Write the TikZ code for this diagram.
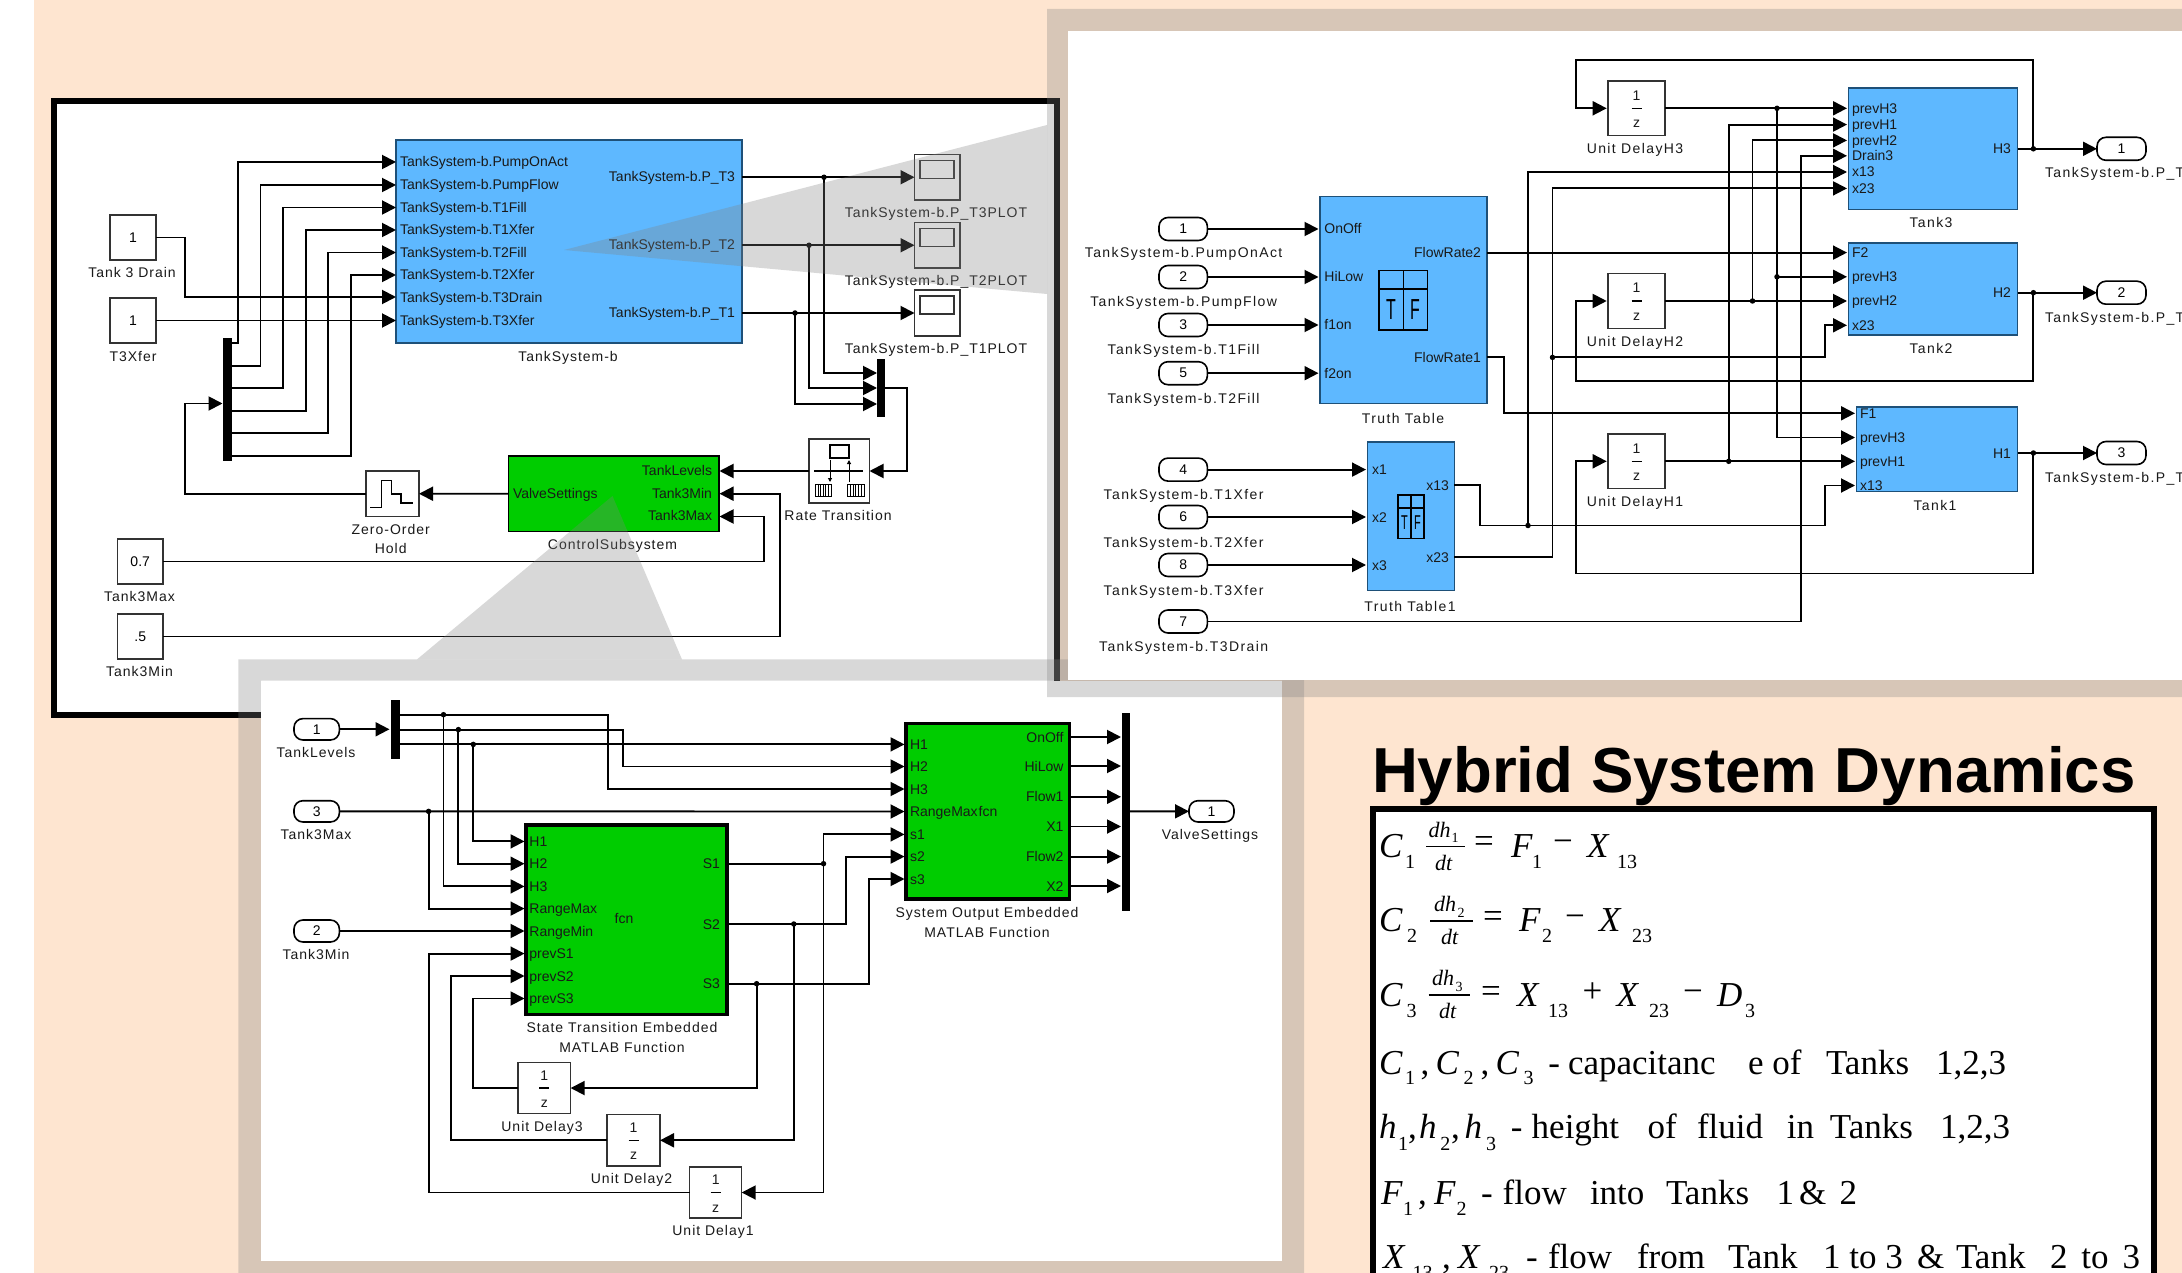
\documentclass[tikz,border=0pt]{standalone}
\usepackage{fontspec}
\setmainfont{Liberation Sans}
\newfontfamily\lfa[LetterSpace=7]{Liberation Sans}
\newfontfamily\lfb[LetterSpace=10]{Liberation Sans}
\newfontfamily\serifF{Liberation Serif}
\usetikzlibrary{arrows.meta}
\definecolor{peach}{RGB}{254,229,208}
\definecolor{blueC}{RGB}{94,184,255}
\definecolor{greenC}{RGB}{0,204,0}
\definecolor{blueE}{RGB}{30,80,120}
\newcounter{tn}
\tikzset{
 wire/.style={draw=black,line width=1.9pt},
 arr/.style={wire,-{Triangle[length=14pt,width=14pt]}},
 txt/.style={inner sep=0pt,outer sep=0pt,text height=10pt,text depth=0pt,text=black!90},
 lbA/.style={txt,font=\lfa\fontsize{14}{16}\selectfont},
 lbB/.style={txt,font=\lfb\fontsize{14}{16}\selectfont},
 lbBw/.style={lbB,anchor=west},
 pl/.style={txt,anchor=west,font=\fontsize{14}{16}\selectfont},
 pr/.style={txt,anchor=east,font=\fontsize{14}{16}\selectfont},
 pc/.style={txt,font=\fontsize{14}{16}\selectfont},
 bk/.style={inner sep=0pt,outer sep=0pt,font=\fontsize{14}{16}\selectfont},
 cblk/.style={bk,draw=black!80,fill=white,line width=1.5pt},
 blueb/.style={bk,draw=blueE,fill=blueC,line width=1.5pt},
 greenb/.style={bk,draw=black,fill=greenC,line width=1.6pt},
 greent/.style={bk,draw=black,fill=greenC,line width=3.5pt},
 pill/.style={bk,draw=black,fill=white,line width=1.6pt,rounded corners=9pt},
 barb/.style={bk,fill=black},
 junc/.style={circle,fill=black,inner sep=0pt,outer sep=0pt,minimum size=5.5pt},
 veil/.style={fill=black!50,fill opacity=.3,draw=none},
 eqb/.style={inner sep=0pt,outer sep=0pt,anchor=base west,text=black},
 eqI/.style={eqb,font=\serifF\itshape\fontsize{35}{40}\selectfont},
 eqR/.style={eqb,font=\serifF\fontsize{35}{40}\selectfont},
 eqS/.style={eqb,font=\serifF\fontsize{20}{24}\selectfont},
 eqF/.style={eqb,font=\serifF\itshape\fontsize{22}{26}\selectfont},
}
% style, name, x1,y1,x2,y2, text
\newcommand{\blk}[7]{%
 \pgfmathsetmacro\bw{#5-#3}\pgfmathsetmacro\bh{#6-#4}%
 \pgfmathsetmacro\bx{(#3+#5)/2}\pgfmathsetmacro\by{(#4+#6)/2}%
 \node[#1,minimum width=\bw pt,minimum height=\bh pt] (#2) at (\bx,\by) {#7};}
\newcommand{\lab}[4]{\stepcounter{tn}\node[#1] (t\arabic{tn}) at (#2,#3) {#4};}
\newcommand{\pt}[3]{\coordinate (#1) at (#2,#3);}
\newcommand{\jn}[3]{\node[junc] (#1) at (#2,#3) {};}
% unit delay: name x1 y1 x2 y2
\newcommand{\ud}[5]{\blk{cblk}{#1}{#2}{#3}{#4}{#5}{}%
 \node[pc] (#1one) at ([yshift=13pt]#1.center) {1};
 \node[pc,text height=7pt] (#1z) at ([yshift=-16pt]#1.center) {z};
 \draw[line width=1.5pt] ([xshift=-5pt]#1.center) -- ([xshift=5pt]#1.center);}
\begin{document}
\begin{tikzpicture}[x=1pt,y=-1pt]
\useasboundingbox (0,0) rectangle (2182,1273);
\clip (0,0) rectangle (2182,1273);
\fill[white] (0,0) rectangle (2182,1273);
\fill[peach] (34,0) rectangle (2182,1273);
% ---------- top-left panel
\node[draw=black,fill=white,line width=6pt,inner sep=0pt,minimum width=1003pt,minimum height=614pt] (frameA) at (555.5,408) {};
\blk{blueb}{tsb}{396}{140}{742}{343}{}
\foreach \n/\y/\t in {1/162/PumpOnAct,2/185/PumpFlow,3/207.5/T1Fill,4/230/T1Xfer,5/252.5/T2Fill,6/275/T2Xfer,7/297/T3Drain,8/320.5/T3Xfer}{
 \pt{ts\n}{396}{\y}
 \node[pl] (tsl\n) at (400,\y) {TankSystem-b.\t};
}
\lab{lbA}{568}{356}{TankSystem-b}
\lab{pr}{735}{177}{TankSystem-b.P\_T3}
\lab{pr}{735}{245}{TankSystem-b.P\_T2}
\lab{pr}{735}{313}{TankSystem-b.P\_T1}
\blk{cblk}{cDrain}{110}{215}{156}{260}{1}
\lab{lbA}{132}{273}{Tank 3 Drain}
\blk{cblk}{cXfer}{110}{298}{156}{343}{1}
\lab{lbA}{133}{356}{T3Xfer}
\draw[arr] (cDrain.east) -| (185,297) -- (ts7);
\draw[arr] (cXfer.east) -- (ts8);
\blk{barb}{dmA}{223}{338}{232}{461}{}
\pt{da1}{232}{343}\pt{da2}{232}{366}\pt{da3}{232}{388}\pt{da4}{232}{411}\pt{da5}{232}{433}\pt{da6}{232}{456}
\draw[arr] (da1) -- (238,343) |- (ts1);
\draw[arr] (da2) -- (260.5,366) |- (ts2);
\draw[arr] (da3) -- (283,388) |- (ts3);
\draw[arr] (da4) -- (306,411) |- (ts4);
\draw[arr] (da5) -- (328,433) |- (ts5);
\draw[arr] (da6) -- (351,456) |- (ts6);
% scopes
\foreach \n/\a/\b/\s in {3/154.5/200/T3,2/222.5/268/T2,1/290/336/T1}{
 \blk{cblk}{sc\n}{914.5}{\a}{960}{\b}{}
 \pgfmathsetmacro\ya{\a+6}\pgfmathsetmacro\yb{\a+24}
 \blk{cblk}{scr\n}{920}{\ya}{954}{\yb}{}
 \pgfmathsetmacro\yl{\b+12.5}
 \node[lbA] (scl\n) at (936,\yl) {TankSystem-b.P\_\s PLOT};
}
\pt{o3}{742}{177.25}\pt{o2}{742}{245.25}\pt{o1}{742}{313}
\jn{ja3}{824}{177.25}\jn{ja2}{809}{245.25}\jn{ja1}{795}{313}
\draw[arr] (o3) -- (sc3.west);
\draw[arr] (o2) -- (sc2.west);
\draw[arr] (o1) -- (sc1.west);
\blk{barb}{mxA}{877}{359}{885}{417}{}
\pt{ma3}{877}{373}\pt{ma2}{877}{388}\pt{ma1}{877}{404}
\draw[arr] (ja3.center) |- (ma3);
\draw[arr] (ja2.center) |- (ma2);
\draw[arr] (ja1.center) |- (ma1);
% rate transition
\blk{cblk}{rt}{809}{439}{869.5}{503}{}
\draw[line width=1.4pt] (814,471) -- (863,471);
\draw[line width=1.2pt,fill=white] (830,445) rectangle (849,458);
\foreach \xa/\xb in {815.5/831,847.5/864}{
 \draw[line width=1pt,fill=white] (\xa,484) rectangle (\xb,496);
 \foreach \k in {1,...,5}{\draw[line width=.8pt] ({\xa+\k*(\xb-\xa)/6},484) -- ({\xa+\k*(\xb-\xa)/6},496);}
}
\draw[line width=1pt,-{Triangle[length=4pt,width=4pt]}] (830,460) -- (830,482);
\draw[line width=1pt,-{Triangle[length=4pt,width=4pt]}] (849,482) -- (849,460);
\lab{lbA}{838}{515}{Rate Transition}
\draw[arr] (885,388) -- (906.7,388) |- (rt.east);
% control subsystem
\blk{greenb}{ctl}{508.5}{456}{719}{531.6}{}
\lab{pr}{712}{470}{TankLevels}
\lab{pr}{712}{493}{Tank3Min}
\lab{pr}{712}{515}{Tank3Max}
\lab{pl}{513}{493}{ValveSettings}
\lab{lbA}{612.5}{544}{ControlSubsystem}
\pt{cl1}{719.5}{471}\pt{cl2}{719.5}{493.7}\pt{cl3}{719.5}{516.5}
\draw[arr] (rt.west) -- (cl1);
% hold
\blk{cblk}{zoh}{366}{471}{419}{516.5}{}
\draw[line width=1.4pt] (370,507.5) -- (381.6,507.5) -- (381.6,480.6) -- (391.3,480.6) -- (391.3,494) -- (401,494) -- (401,503) -- (413,503);
\lab{lbA}{390.7}{529}{Zero-Order}
\lab{lbA}{390.7}{548}{Hold}
\pt{ctlv}{508.5}{493.7}
\draw[arr] (ctlv) -- (zoh.east);
\pt{dmi}{222.5}{403.5}
\draw[arr] (zoh.west) -| (185,403.5) -- (dmi);
\blk{cblk}{cMax}{117.4}{539}{163}{584}{0.7}
\lab{lbA}{139.5}{596.5}{Tank3Max}
\blk{cblk}{cMin}{117.4}{614}{163}{659}{.5}
\lab{lbA}{139.5}{671.6}{Tank3Min}
\draw[arr] (cMax.east) -| (764,516.5) -- (cl3);
\draw[arr] (cMin.east) -| (780,493.7) -- (cl2);
% ---------- zoom veil to the lower panel
\fill[veil] (612.5,496) -- (417,659.4) -- (682,659.4) -- cycle;
\fill[veil,even odd rule] (238.4,659.4) rectangle (1304,1300) (261,680.6) rectangle (1282,1261);
\fill[white] (261,680.6) rectangle (1282,1261);
% ---------- lower panel
\blk{greent}{lo}{526}{825}{726.8}{1014.6}{}
\blk{greent}{up}{906}{723.3}{1069.6}{899}{}
\foreach \n/\y/\t in {1/841.4/H1,2/863.7/H2,3/886.4/H3,4/908.6/RangeMax,5/931/RangeMin,6/953.6/prevS1,7/976/prevS2,8/998.5/prevS3}{
 \pt{li\n}{524.5}{\y}
 \node[pl] (lil\n) at (529.4,\y) {\t};
}
\lab{pc}{624}{918}{fcn}
\foreach \n/\y/\t in {1/863.7/S1,2/924/S2,3/983.7/S3}{
 \pt{lo\n}{726.8}{\y}
 \node[pr] (lol\n) at (720,\y) {\t};
}
\foreach \n/\y/\t in {1/744.4/H1,2/766.5/H2,3/789/H3,4/811.5/RangeMax,5/834.4/s1,6/856.6/s2,7/879/s3}{
 \pt{ui\n}{904.5}{\y}
 \node[pl] (uil\n) at (910,\y) {\t};
}
\lab{pc}{988}{811.5}{fcn}
\foreach \n/\y/\t in {1/737/OnOff,2/766/HiLow,3/796.8/Flow1,4/826.5/X1,5/856.6/Flow2,6/886/X2}{
 \pt{uo\n}{1069.6}{\y}
 \pt{mi\n}{1121}{\y}
 \node[pr] (uol\n) at (1063.5,\y) {\t};
 \draw[arr] (uo\n) -- (mi\n);
}
\blk{barb}{mxL}{1121.7}{712.8}{1130}{910.6}{}
\blk{pill}{vout}{1189}{800.7}{1234}{822}{1}
\lab{lbA}{1210}{834.7}{ValveSettings}
\draw[arr] (1130,811.35) -- (vout.west);
\blk{pill}{inL}{294}{718.6}{339.4}{740}{1}
\lab{lbA}{316}{752.6}{TankLevels}
\blk{pill}{inMax}{294}{800.7}{339.4}{822}{3}
\lab{lbA}{316}{834.4}{Tank3Max}
\blk{pill}{inMin}{294}{920}{339.4}{942}{2}
\lab{lbA}{316}{954}{Tank3Min}
\blk{barb}{dmL}{390.8}{700}{399.6}{758.5}{}
\draw[arr] (inL.east) -- (389.5,729.3);
\pt{dl1}{399.6}{714.7}\pt{dl2}{399.6}{729.6}\pt{dl3}{399.6}{744.4}
\jn{jl1}{443.5}{714.7}\jn{jl2}{458.4}{729.6}\jn{jl3}{473.3}{744.4}
\draw[arr] (dl1) -- (607.8,714.7) |- (ui3);
\draw[arr] (dl2) -- (622.7,729.6) |- (ui2);
\draw[arr] (dl3) -- (ui1);
\draw[arr] (jl1.center) |- (li3);
\draw[arr] (jl2.center) |- (li2);
\draw[arr] (jl3.center) |- (li1);
\jn{jm}{428.6}{811.35}
\draw[arr] (inMax.east) -- (ui4);
\draw[arr] (jm.center) |- (li4);
\draw[arr] (inMin.east) -- (li5);
\jn{js1}{823.5}{863.7}\jn{js2}{793.8}{924}\jn{js3}{756.6}{983.7}
\draw[arr] (lo1) -- (823.5,863.7) |- (ui5);
\draw[arr] (lo2) -- (845.8,924) |- (ui6);
\draw[arr] (lo3) -- (868.8,983.7) |- (ui7);
\ud{d3}{518}{1062.6}{570.6}{1113.5}
\ud{d2}{607}{1114.6}{660}{1166}
\ud{d1}{689.6}{1167}{741.7}{1218}
\lab{lbA}{542}{1126}{Unit Delay3}
\lab{lbA}{631.5}{1178}{Unit Delay2}
\lab{lbA}{713}{1230.7}{Unit Delay1}
\draw[arr] (js3.center) |- (d3.east);
\draw[arr] (js2.center) |- (d2.east);
\draw[arr] (js1.center) |- (d1.east);
\draw[arr] (d3.west) -| (473.3,998.5) -- (li8);
\draw[arr] (d2.west) -| (451,976) -- (li7);
\draw[arr] (d1.west) -| (428.6,953.6) -- (li6);
\lab{lbA}{622}{1027.5}{State Transition Embedded}
\lab{lbA}{622}{1047}{MATLAB Function}
\lab{lbA}{987}{912.5}{System Output Embedded}
\lab{lbA}{987}{932}{MATLAB Function}
% ---------- zoom veil to the upper-right panel
\fill[veil] (564,250) -- (1047,125) -- (1047,294) -- cycle;
\fill[veil,even odd rule] (1047,9) rectangle (2200,697) (1068,31) rectangle (2200,680);
\fill[white] (1068,31) rectangle (2182,680);
% ---------- upper-right panel
\blk{blueb}{tk3}{1848.6}{88}{2017.5}{209.5}{}
\blk{blueb}{tk2}{1848.6}{243}{2017.5}{335}{}
\blk{blueb}{tk1}{1856.5}{407}{2017.5}{491.6}{}
\foreach \n/\y/\t in {1/108.3/prevH3,2/124.6/prevH1,3/140.4/prevH2,4/155.8/Drain3,5/172/x13,6/188.4/x23}{
 \pt{a\n}{1847}{\y}\node[pl] (al\n) at (1852,\y) {\t};}
\foreach \n/\y/\t in {1/252.6/F2,2/276.8/prevH3,3/301/prevH2,4/325.3/x23}{
 \pt{b\n}{1847}{\y}\node[pl] (bl\n) at (1852,\y) {\t};}
\foreach \n/\y/\t in {1/413.3/F1,2/437.5/prevH3,3/461.3/prevH1,4/485.5/x13}{
 \pt{c\n}{1855}{\y}\node[pl] (cl\n) at (1860,\y) {\t};}
\lab{pr}{2011}{148.8}{H3}
\lab{pr}{2011}{292.7}{H2}
\lab{pr}{2011}{453}{H1}
\lab{lbB}{1931}{222.7}{Tank3}
\lab{lbB}{1931}{348}{Tank2}
\lab{lbB}{1935}{505}{Tank1}
% truth tables
\blk{blueb}{tt}{1320}{196.7}{1487}{403.6}{}
\foreach \n/\y/\t/\q in {1/229/OnOff/1,2/277/HiLow/2,3/325/f1on/3,4/373.2/f2on/5}{
 \pt{ti\n}{1318.5}{\y}
 \node[pl] (til\n) at (1324.4,\y) {\t};
 \pgfmathsetmacro\ya{\y-11.5}\pgfmathsetmacro\yb{\y+11.5}
 \blk{pill}{pi\n}{1159}{\ya}{1207.4}{\yb}{\q}
 \draw[arr] (pi\n.east) -- (ti\n);
}
\lab{lbB}{1183.6}{253}{TankSystem-b.PumpOnAct}
\lab{lbB}{1183.6}{301.5}{TankSystem-b.PumpFlow}
\lab{lbB}{1183.6}{350}{TankSystem-b.T1Fill}
\lab{lbB}{1183.6}{398}{TankSystem-b.T2Fill}
\lab{pr}{1481}{252.6}{FlowRate2}
\lab{pr}{1481}{357}{FlowRate1}
\lab{lbB}{1403}{418.6}{Truth Table}
\draw[line width=1.5pt] (1379,270.7) rectangle (1427.6,330) (1403.3,270.7) -- (1403.3,330) (1379,289) -- (1427.6,289);
\node[inner sep=0pt,font=\fontsize{29}{30}\selectfont] (tticT) at (1391,310) {\scalebox{.55}[1]{T}};
\node[inner sep=0pt,font=\fontsize{29}{30}\selectfont] (tticF) at (1415,310) {\scalebox{.55}[1]{F}};
\blk{blueb}{tu}{1367.7}{442}{1454.3}{590.6}{}
\foreach \n/\y/\t/\q in {1/469.6/x1/4,2/517/x2/6,3/565/x3/8}{
 \pt{ui\n b}{1366}{\y}
 \node[pl] (tul\n) at (1372,\y) {\t};
 \pgfmathsetmacro\ya{\y-11.5}\pgfmathsetmacro\yb{\y+11.5}
 \blk{pill}{pu\n}{1159}{\ya}{1207.4}{\yb}{\q}
 \draw[arr] (pu\n.east) -- (ui\n b);
}
\lab{lbB}{1183.6}{494}{TankSystem-b.T1Xfer}
\lab{lbB}{1183.6}{542}{TankSystem-b.T2Xfer}
\lab{lbB}{1183.6}{590}{TankSystem-b.T3Xfer}
\lab{pr}{1449}{485}{x13}
\lab{pr}{1449}{557}{x23}
\lab{lbB}{1410}{606}{Truth Table1}
\draw[line width=1.5pt] (1398,495) rectangle (1424,538.7) (1411,495) -- (1411,538.7) (1398,508) -- (1424,508);
\node[inner sep=0pt,font=\fontsize{20}{21}\selectfont] (tuicT) at (1404.5,523) {\scalebox{.55}[1]{T}};
\node[inner sep=0pt,font=\fontsize{20}{21}\selectfont] (tuicF) at (1417.5,523) {\scalebox{.55}[1]{F}};
\blk{pill}{pd7}{1159}{610}{1207.4}{633}{7}
\lab{lbB}{1183.6}{646}{TankSystem-b.T3Drain}
\draw[arr] (pd7.east) -| (1801,155.8) -- (a4);
\pt{tto2}{1487}{252.6}\pt{tto1}{1487}{357}
\pt{tuo1}{1454.3}{485}\pt{tuo2}{1454.3}{557}
\draw[arr] (tto2) -- (b1);
\draw[arr] (tto1) -- (1504,357) |- (c1);
\jn{jx13}{1528}{525.5}\jn{jx23}{1552.5}{357.4}
\draw[arr] (tuo1) -- (1480.3,485) |- (1824.7,525.5) |- (c4);
\draw[arr] (jx13.center) |- (a5);
\draw[arr] (tuo2) -- (1552.5,557) |- (a6);
\draw[arr] (jx23.center) -- (1824.7,357.4) |- (b4);
% unit delays
\ud{h3}{1608}{81}{1665}{135.6}
\ud{h2}{1608}{273.3}{1665}{328.7}
\ud{h1}{1608}{434}{1665}{488.6}
\lab{lbB}{1635}{149}{Unit DelayH3}
\lab{lbB}{1635}{341.5}{Unit DelayH2}
\lab{lbB}{1635}{501.7}{Unit DelayH1}
\jn{jh3}{1777}{108.3}\jn{jh3b}{1777}{276.8}\jn{jh2}{1752.5}{301}\jn{jh1}{1728.7}{461.3}
\draw[arr] (h3.east) -- (a1);
\draw[arr] (jh3.center) |- (c2);
\draw[arr] (jh3b.center) -- (b2);
\draw[arr] (h2.east) -- (b3);
\draw[arr] (jh2.center) |- (a3);
\draw[arr] (h1.east) -- (c3);
\draw[arr] (jh1.center) |- (a2);
% outports and feedback
\pt{he3}{1606.7}{108.3}\pt{he2}{1606.7}{301}\pt{he1}{1606.7}{461.3}
\jn{jo3}{2033.4}{148.8}\jn{jo2}{2033.4}{292.7}\jn{jo1}{2033.4}{453}
\blk{pill}{po3}{2097}{137.3}{2146}{160.3}{1}
\blk{pill}{po2}{2097}{281.2}{2146}{304.2}{2}
\blk{pill}{po1}{2097}{441.5}{2146}{464.5}{3}
\pt{tk3o}{2017.5}{148.8}\pt{tk2o}{2017.5}{292.7}\pt{tk1o}{2017.5}{453}
\draw[arr] (tk3o) -- (po3.west);
\draw[arr] (tk2o) -- (po2.west);
\draw[arr] (tk1o) -- (po1.west);
\draw[arr] (jo3.center) -- (2033.4,60.3) -- (1576.4,60.3) |- (he3);
\draw[arr] (jo2.center) -- (2033.4,381) -- (1576.4,381) |- (he2);
\draw[arr] (jo1.center) -- (2033.4,573.5) -- (1576.4,573.5) |- (he1);
\lab{lbBw}{2045}{172.5}{TankSystem-b.P\_T}
\lab{lbBw}{2045}{317.5}{TankSystem-b.P\_T}
\lab{lbBw}{2045}{477.5}{TankSystem-b.P\_T}
% ---------- equations
\node[inner sep=0pt,outer sep=0pt,anchor=base west,font=\bfseries\fontsize{63.6}{70}\selectfont,text=black] (title) at (1372,792) {Hybrid System Dynamics};
\fill[white,draw=black,line width=6pt] (1373,808.7) rectangle (2154,1300);
\newcommand{\eq}[4]{\stepcounter{tn}\node[#1] (t\arabic{tn}) at (#2,#3) {#4};}
% line 1
\eq{eqI}{1379}{857.6}{C}\eq{eqS}{1405}{868}{1}
\draw[line width=1.6pt] (1426,846.3) -- (1464.6,846.3);
\eq{eqF}{1428.6}{837}{dh}\eq{eqS}{1451.7}{842}{\fontsize{14}{16}\selectfont 1}\eq{eqF}{1435}{870}{dt}
\eq{eqR}{1474}{852.5}{=}\eq{eqI}{1511}{857.6}{F}\eq{eqS}{1532}{868}{1}
\eq{eqR}{1553}{852.5}{−}\eq{eqI}{1587}{857.6}{X}\eq{eqS}{1617}{868}{13}
% line 2
\eq{eqI}{1379}{931.6}{C}\eq{eqS}{1407}{942}{2}
\draw[line width=1.6pt] (1430,921) -- (1472.6,921);
\eq{eqF}{1434}{911.5}{dh}\eq{eqS}{1457.6}{917}{\fontsize{14}{16}\selectfont 2}\eq{eqF}{1441}{944}{dt}
\eq{eqR}{1483}{927}{=}\eq{eqI}{1519}{931.6}{F}\eq{eqS}{1542}{942}{2}
\eq{eqR}{1565}{927}{−}\eq{eqI}{1599}{931.6}{X}\eq{eqS}{1632}{942}{23}
% line 3
\eq{eqI}{1379}{1006.4}{C}\eq{eqS}{1406.5}{1017}{3}
\draw[line width=1.6pt] (1428.6,995) -- (1470,995);
\eq{eqF}{1432}{985.6}{dh}\eq{eqS}{1455.5}{991}{\fontsize{14}{16}\selectfont 3}\eq{eqF}{1439}{1018}{dt}
\eq{eqR}{1481}{1002.5}{=}\eq{eqI}{1517}{1006.4}{X}\eq{eqS}{1548}{1017}{13}
\eq{eqR}{1582.5}{1002.5}{+}\eq{eqI}{1616.6}{1006.4}{X}\eq{eqS}{1649}{1017}{23}
\eq{eqR}{1683}{1002.5}{−}\eq{eqI}{1717}{1006.4}{D}\eq{eqS}{1745}{1017}{3}
% line 4
\eq{eqI}{1379}{1074}{C}\eq{eqS}{1405}{1084.5}{1}\eq{eqR}{1420.5}{1074}{,}
\eq{eqI}{1435.6}{1074}{C}\eq{eqS}{1463.5}{1084.5}{2}\eq{eqR}{1480.7}{1074}{,}
\eq{eqI}{1495.7}{1074}{C}\eq{eqS}{1523.7}{1084.5}{3}
\eq{eqR}{1548.4}{1074}{-}\eq{eqR}{1568}{1074}{capacitanc}\eq{eqR}{1748}{1074}{e of}
\eq{eqR}{1826}{1074}{Tanks}\eq{eqR}{1936}{1074}{1,2,3}
% line 5
\eq{eqI}{1379}{1138.8}{h}\eq{eqS}{1398}{1150}{1}\eq{eqR}{1408}{1138.8}{,}
\eq{eqI}{1419}{1138.8}{h}\eq{eqS}{1440.4}{1150}{2}\eq{eqR}{1451}{1138.8}{,}
\eq{eqI}{1464.6}{1138.8}{h}\eq{eqS}{1486}{1150}{3}
\eq{eqR}{1510.8}{1138.8}{-}\eq{eqR}{1531.7}{1138.8}{height}\eq{eqR}{1647.7}{1138.8}{of}
\eq{eqR}{1697}{1138.8}{fluid}\eq{eqR}{1786.8}{1138.8}{in}\eq{eqR}{1829.8}{1138.8}{Tanks}\eq{eqR}{1940}{1138.8}{1,2,3}
% line 6
\eq{eqI}{1381}{1204}{F}\eq{eqS}{1403}{1215.5}{1}\eq{eqR}{1418}{1204}{,}
\eq{eqI}{1434}{1204}{F}\eq{eqS}{1456.5}{1215.5}{2}
\eq{eqR}{1481}{1204}{-}\eq{eqR}{1502.7}{1204}{flow}\eq{eqR}{1590}{1204}{into}
\eq{eqR}{1666}{1204}{Tanks}\eq{eqR}{1776.6}{1204}{1}\eq{eqR}{1799}{1204}{\&}\eq{eqR}{1839.5}{1204}{2}
% line 7
\eq{eqI}{1383}{1268.5}{X}\eq{eqS}{1412.5}{1279.5}{13}\eq{eqR}{1442}{1268.5}{,}
\eq{eqI}{1458}{1268.5}{X}\eq{eqS}{1489}{1279.5}{23}
\eq{eqR}{1526}{1268.5}{-}\eq{eqR}{1548}{1268.5}{flow}\eq{eqR}{1637}{1268.5}{from}
\eq{eqR}{1728}{1268.5}{Tank}\eq{eqR}{1823}{1268.5}{1 to 3}\eq{eqR}{1917}{1268.5}{\&}
\eq{eqR}{1956}{1268.5}{Tank}\eq{eqR}{2050}{1268.5}{2\hspace{.15em} to\hspace{.15em} 3}
\end{tikzpicture}
\end{document}
